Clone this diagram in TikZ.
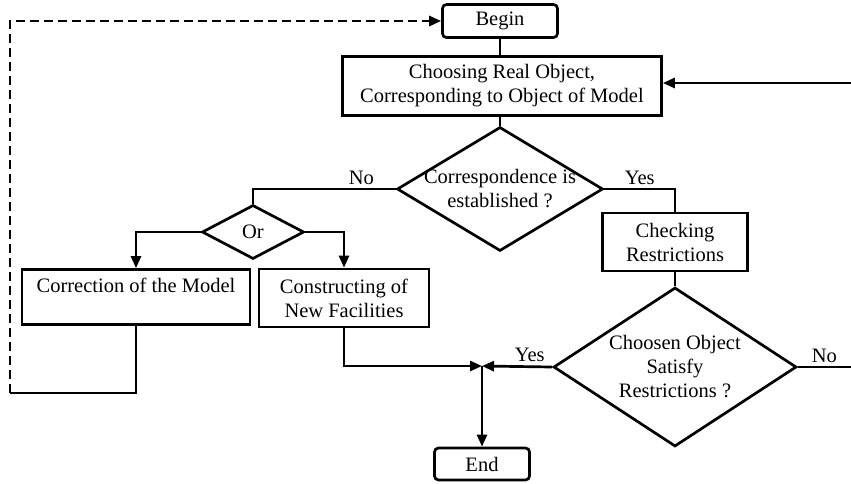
\documentclass[tikz,border=0pt]{standalone}
\usepackage{fontspec}
\setmainfont{Liberation Serif}
\usetikzlibrary{shapes.geometric,arrows.meta}

\begin{document}
\begin{tikzpicture}
[x=1pt,y=-1pt,
  font=\fontsize{20.5}{24}\selectfont,
  lineDecorate/.style={line width=2.7pt},%
  arrowDecorate/.style={lineDecorate,-{Triangle[length=12pt,width=10pt]}},%
  loopDecorate/.style={arrowDecorate,dash pattern=on 9pt off 5pt},%
  boxDecorate/.style={shape=rectangle,draw,line width=2.7pt,align=center,inner sep=0pt},%
  termDecorate/.style={boxDecorate,rounded corners=4pt,minimum width=115pt,minimum height=33pt},%
  decisionDecorate/.style={shape=diamond,draw,line width=2.7pt,inner sep=0pt}]
\useasboundingbox (0,0) rectangle (851,483);
%% nodes or blocks
\node[termDecorate] (begin) at (500,21) {Begin};
\node[boxDecorate,minimum width=319pt,minimum height=59pt] (choose) at (502,86)
  {Choosing Real Object,\\Corresponding to Object of Model};
\node[decisionDecorate,minimum width=206pt,minimum height=124pt,
  label={[align=center]center:Correspondence is\\established ?}] (match) at (500,189) {};
\node[decisionDecorate,minimum width=102pt,minimum height=54pt,
  label=center:Or] (or) at (253,232) {};
\node[boxDecorate,minimum width=228pt,minimum height=55pt] (correct) at (136,297)
  {Correction of the Model\\\mbox{}};
\node[boxDecorate,minimum width=170pt,minimum height=58pt] (build) at (344,298)
  {Constructing of\\New Facilities};
\node[boxDecorate,minimum width=145pt,minimum height=58pt] (check) at (675,242)
  {Checking\\Restrictions};
\node[decisionDecorate,minimum width=243pt,minimum height=159pt,
  label={[align=center]center:Choosen Object\\Satisfy\\Restrictions ?}] (satisfy) at (675,367) {};
\node[termDecorate,minimum width=95pt,minimum height=32pt] (end) at (482,464) {End};
%% free ends and turning points
\coordinate (join) at (482,366);
\coordinate (inRight) at (851,83);
\coordinate (outRight) at (851,367);
\coordinate (loopTurn) at (10,393);
%% edges or lines
\draw[lineDecorate] (begin.south) -- (begin.south |- choose.north);
\draw[lineDecorate] (choose.south -| match.north) -- (match.north);
\draw[arrowDecorate] (inRight) -- (inRight -| choose.east);
\draw[lineDecorate] (match.west) -| node[pos=0.12,above] {No} (or.north);
\draw[arrowDecorate] (or.west) -| (correct.north);
\draw[arrowDecorate] (or.east) -| (build.north);
\draw[lineDecorate] (match.east) -| node[pos=0.25,above] {Yes} (check.north);
\draw[lineDecorate] (check.south) -- (satisfy.north);
\draw[arrowDecorate] (satisfy.west) -- node[pos=0.32,above] {Yes} (join);
\draw[lineDecorate] (satisfy.east) -- node[above] {No} (outRight);
\draw[arrowDecorate] (build.south) |- (join);
\draw[arrowDecorate] (join) -- (end.north);
\draw[lineDecorate] (correct.south) |- (loopTurn);
\draw[loopDecorate] (loopTurn) |- (begin.west);
\end{tikzpicture}
\end{document}
